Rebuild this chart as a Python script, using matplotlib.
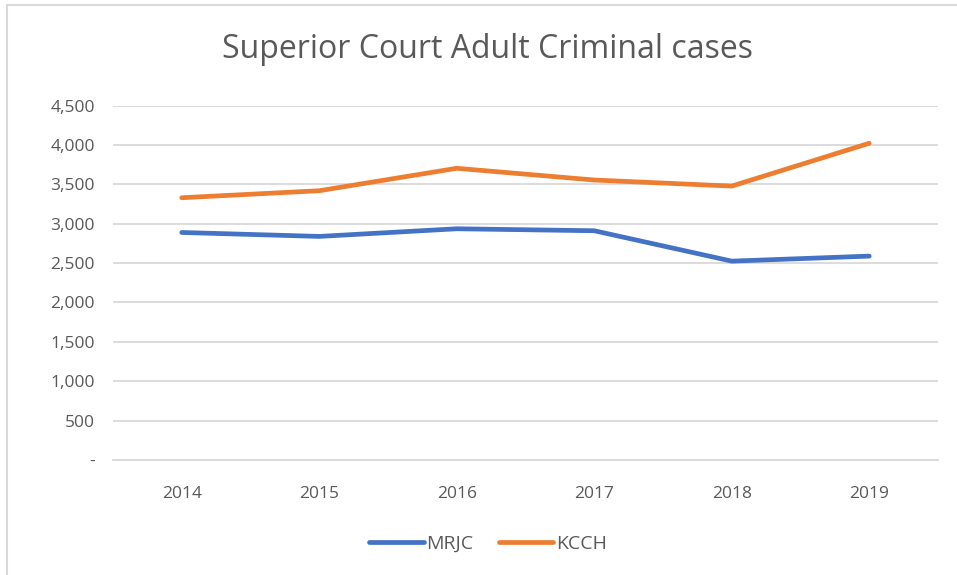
import matplotlib
matplotlib.use('Agg')
import matplotlib.pyplot as plt
from matplotlib.patches import Rectangle
from matplotlib.ticker import FuncFormatter

years = ['2014', '2015', '2016', '2017', '2018', '2019']
mrjc = [2889, 2839, 2936, 2911, 2525, 2589]
kcch = [3330, 3419, 3704, 3555, 3478, 4022]

plt.rcParams['font.family'] = ['Open Sans', 'DejaVu Sans']
txt = '#595959'

fig = plt.figure(figsize=(9.57, 5.75), dpi=100)
ax = fig.add_axes([113/957, 1-460/575, 825/957, (460-105.6)/575])

x = range(len(years))
ax.plot(x, mrjc, color='#4472C4', lw=3.4, solid_capstyle='round', label='MRJC')
ax.plot(x, kcch, color='#ED7D31', lw=3.4, solid_capstyle='round', label='KCCH')

ax.set_xlim(-0.5, 5.5)
ax.set_ylim(0, 4500)
ax.set_yticks(range(0, 4501, 500))
ax.yaxis.set_major_formatter(FuncFormatter(lambda v, p: '-' if v == 0 else f'{int(v):,}'))
ax.set_xticks(list(x))
ax.set_xticklabels(years)
ax.grid(axis='y', color='#D9D9D9', lw=1.3)
ax.set_axisbelow(True)
for s in ['top', 'right', 'left']:
    ax.spines[s].set_visible(False)
ax.spines['bottom'].set_color('#D9D9D9')
ax.spines['bottom'].set_linewidth(1.3)
ax.tick_params(length=0, labelsize=12.5, colors=txt, pad=19)
ax.tick_params(axis='y', pad=13)

fig.text(0.509, 1-50/575, 'Superior Court Adult Criminal cases', ha='center', va='center',
         fontsize=23, color=txt)
fig.legend(loc='center', bbox_to_anchor=(0.51, 1-544/575), ncol=2, frameon=False,
           fontsize=14, labelcolor=txt, handlelength=2.8, handletextpad=0.15, columnspacing=1.3)

fig.patches.append(Rectangle((7/957, -0.01), 1, 1-5/575+0.01, transform=fig.transFigure,
                             fill=False, edgecolor='#D9D9D9', lw=1.5))

fig.savefig('out.png', dpi=100)
